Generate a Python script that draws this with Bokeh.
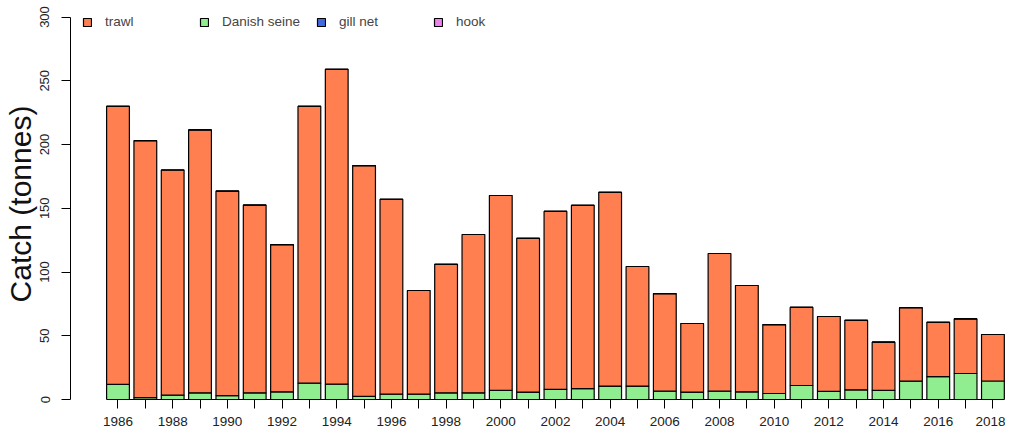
from bokeh.plotting import figure
from bokeh.models import FixedTicker, Legend, LegendItem, ColumnDataSource, Title
from bokeh.embed import file_html
from bokeh.resources import INLINE

years = list(range(1986, 2019))
total = [230, 203, 180, 211.5, 163.5, 152.5, 121.5, 230, 259, 183.5, 157, 85.5,
         106, 129.4, 160, 126.3, 147.5, 152.2, 162.4, 104.3, 83.1, 59.6, 114.5, 89.4,
         58.8, 72.2, 65.1, 62, 45, 72, 60.6, 63.3, 51]
seine = [11.8, 1.5, 3.4, 5.2, 3.1, 5.2, 6.0, 12.8, 12.0, 2.4, 4.2, 4.2,
         5.2, 5.2, 7.1, 5.8, 8.0, 8.6, 10.5, 10.5, 6.5, 5.8, 6.5, 6.0,
         4.7, 11.0, 6.3, 7.6, 7.1, 14.4, 17.9, 20.4, 14.5]
trawl = [round(t - s, 1) for t, s in zip(total, seine)]
gillnet = [0.0] * len(years)
hook = [0.0] * len(years)

gears = ["seine", "trawl", "gillnet", "hook"]
gear_colors = {"trawl": "#FF7F50", "seine": "#90EE90", "gillnet": "#4169E1", "hook": "#EE82EE"}
legend_order = [("trawl", "trawl"), ("Danish seine", "seine"), ("gill net", "gillnet"), ("hook", "hook")]
y_ticks = [0, 50, 100, 150, 200, 250, 300]
y_title = "Catch (tonnes)"

source = ColumnDataSource(dict(year=years, seine=seine, trawl=trawl, gillnet=gillnet, hook=hook))

bar_w = 1 / 1.2
FONT = "Liberation Sans"

p = figure(frame_width=935, frame_height=391,
           x_range=(1984.263, 2018.46), y_range=(0, 306.67),
           output_backend="svg", toolbar_location=None,
           min_border_left=70, min_border_right=0, min_border_top=8, min_border_bottom=0)
p.outline_line_color = None
p.xgrid.visible = False
p.ygrid.visible = False

renderers = p.vbar_stack(gears, x="year", width=bar_w, source=source,
                         color=[gear_colors[g] for g in gears],
                         line_color="black", line_width=1.2)
rmap = dict(zip(gears, renderers))

items = [LegendItem(label=lbl, renderers=[rmap[g]]) for lbl, g in legend_order]
legend = Legend(items=items, orientation="horizontal", location=(12, 370),
                margin=0, padding=0, spacing=0,
                glyph_width=10, glyph_height=10, label_standoff=13,
                label_width=94, label_height=10,
                label_text_font=FONT, label_text_font_size="13.5px",
                border_line_color=None, background_fill_alpha=0)
p.add_layout(legend)

# y-axis title in its own left panel
ytitle = Title(text=y_title, align="center", vertical_align="middle",
               text_font=FONT, text_font_size="30px", text_font_style="normal",
               text_color="#111111", standoff=0, offset=0)
p.add_layout(ytitle, "left")

# axes
p.xaxis.ticker = FixedTicker(ticks=years)
p.xaxis.major_label_overrides = {y: (str(y) if y % 2 == 0 else "") for y in years}
p.xaxis.bounds = (years[0] - bar_w / 2, years[-1] + bar_w / 2)
p.xaxis.minor_tick_line_color = None
p.xaxis.major_tick_out = 9
p.xaxis.major_tick_in = 0
p.xaxis.major_label_standoff = 8
p.xaxis.major_label_text_font = FONT
p.xaxis.major_label_text_font_size = "13.5px"
p.xaxis.major_label_text_color = "#222222"
p.xaxis.axis_line_color = "black"
p.xaxis.major_tick_line_color = "black"

p.yaxis.ticker = FixedTicker(ticks=y_ticks)
p.yaxis.bounds = (0, 300)
p.yaxis.minor_tick_line_color = None
p.yaxis.major_tick_out = 9
p.yaxis.major_tick_in = 0
p.yaxis.major_label_orientation = "vertical"
p.yaxis.major_label_standoff = 12
p.yaxis.major_label_text_font = FONT
p.yaxis.major_label_text_font_size = "13px"
p.yaxis.major_label_text_color = "#222222"
p.yaxis.axis_line_color = "black"
p.yaxis.major_tick_line_color = "black"

open("out.html", "w").write(file_html(p, INLINE))
